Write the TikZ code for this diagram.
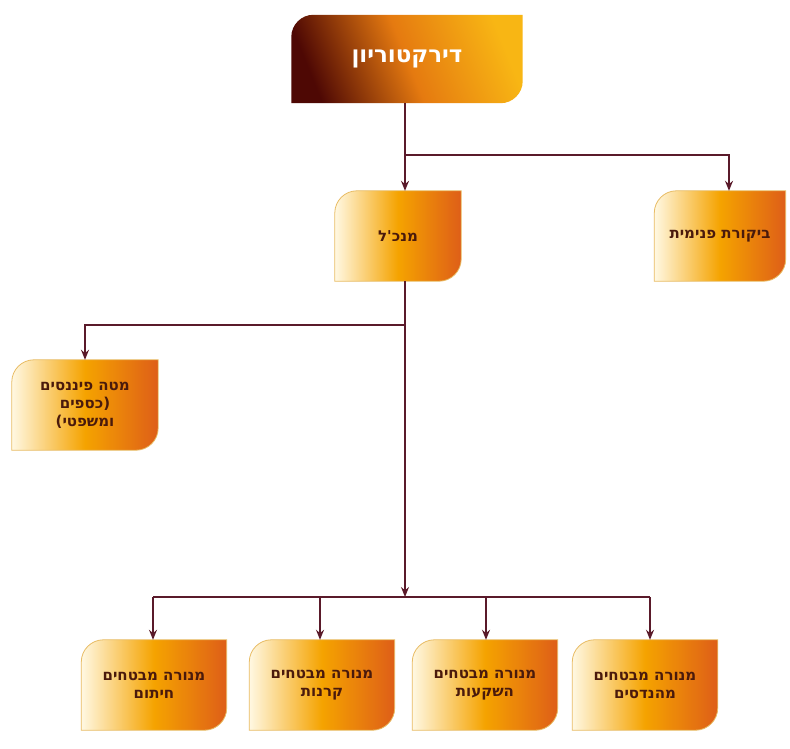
\documentclass[tikz,border=0pt]{standalone}
\usepackage{fontspec}
\newfontfamily\heb[Script=Hebrew]{DejaVu Sans}
\TeXXeTstate=1
\usetikzlibrary{arrows.meta,backgrounds}
\definecolor{linec}{HTML}{5A1A2A}
\definecolor{txtc}{HTML}{4A1A0C}
\definecolor{cream}{HTML}{FFF8E2}
\definecolor{midor}{HTML}{F5A300}
\definecolor{darkor}{HTML}{DE5E18}
\definecolor{edgec}{HTML}{E8BC64}
\definecolor{brownd}{HTML}{4E0804}
\definecolor{topmid}{HTML}{E57A10}
\definecolor{topy}{HTML}{F8B614}
\newcommand\orgshape[2]{%
  \path[#2] (#1.south west) -- ([yshift=-22pt]#1.north west)
    .. controls ([yshift=-10pt]#1.north west) and ([xshift=10pt]#1.north west) .. ([xshift=22pt]#1.north west)
    -- (#1.north east) -- ([yshift=22pt]#1.south east)
    .. controls ([yshift=10pt]#1.south east) and ([xshift=-10pt]#1.south east) .. ([xshift=-22pt]#1.south east)
    -- cycle;}
\begin{document}
\begin{tikzpicture}[x=1pt,y=-1pt,
  box/.style={inner sep=0pt, minimum height=90pt, align=center, text=txtc,
    font=\heb\bfseries\fontsize{15}{18}\selectfont},
  topbox/.style={inner sep=0pt, minimum width=231pt, minimum height=88pt, text=white,
    font=\heb\bfseries\fontsize{23}{26}\selectfont},
  orgfill/.style={left color=cream, right color=darkor, middle color=midor, draw=edgec, line width=0.8pt},
  topfill/.style={left color=brownd, right color=topy, middle color=topmid, shading angle=112},
  conn/.style={draw=linec, line width=1.4pt},
  arr/.style={conn, -{Stealth[length=10pt,width=8pt]}}]
\useasboundingbox (0,0) rectangle (790,749);

% nodes
\node[topbox] (t) at (407,59) {\beginR דירקטוריון\endR};
\node[box, minimum width=126pt] (m) at (398,236) {\beginR מנכ'ל\endR};
\node[box, minimum width=131pt] (b) at (720,236) {\beginR ביקורת פנימית\endR};
\node[box, minimum width=146pt] (f) at (85,405) {\beginR מטה פיננסים\endR\\\beginR (כספים\endR\\\beginR ומשפטי)\endR};
\node[box, minimum width=145pt] (k1) at (154,685) {\beginR מנורה מבטחים\endR\\\beginR חיתום\endR};
\node[box, minimum width=145pt] (k2) at (322,685) {\beginR מנורה מבטחים\endR\\\beginR קרנות\endR};
\node[box, minimum width=145pt] (k3) at (485,685) {\beginR מנורה מבטחים\endR\\\beginR השקעות\endR};
\node[box, minimum width=145pt] (k4) at (645,685) {\beginR מנורה מבטחים\endR\\\beginR מהנדסים\endR};

% shapes behind text
\begin{scope}[on background layer]
  \fill[white] (0,0) rectangle (790,749);
  \orgshape{t}{topfill}
  \foreach \n in {m,b,f,k1,k2,k3,k4}{\orgshape{\n}{orgfill}}
\end{scope}

% junction coordinates
\coordinate (j1) at (405,155);
\coordinate (bj) at (729,155);
\coordinate (j2) at (405,325);
\coordinate (fj) at (85,325);
\coordinate (j3) at (405,597);
\coordinate (c1) at (153,597);
\coordinate (c2) at (320,597);
\coordinate (c3) at (486,597);
\coordinate (c4) at (650,597);

% connectors
\draw[conn] (j1 |- t.south) -- (j1);
\draw[arr] (j1) -- (j1 |- m.north);
\draw[arr] (j1) -- (bj) -- (bj |- b.north);
\draw[arr] (j2 |- m.south) -- (j3);
\draw[arr] (j2) -- (fj) -- (fj |- f.north);
\draw[conn] (c1) -- (c4);
\draw[arr] (c1) -- (c1 |- k1.north);
\draw[arr] (c2) -- (c2 |- k2.north);
\draw[arr] (c3) -- (c3 |- k3.north);
\draw[arr] (c4) -- (c4 |- k4.north);
\end{tikzpicture}
\end{document}
